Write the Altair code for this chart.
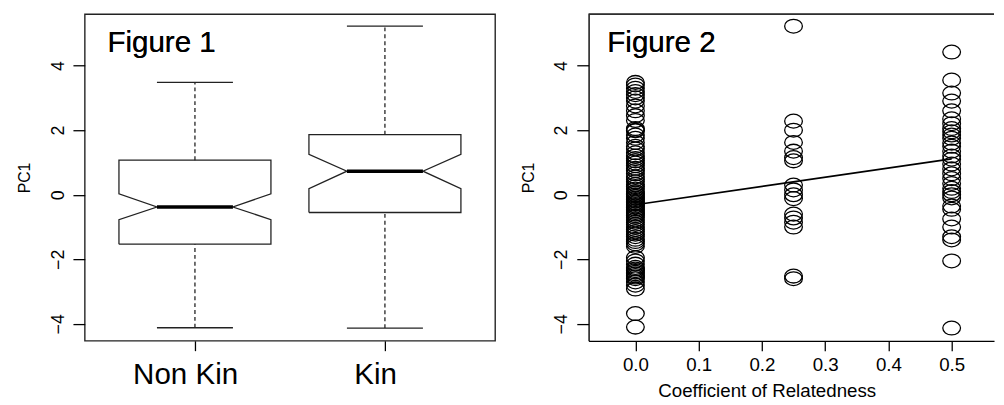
import altair as alt
import pandas as pd

# ---------------- data ----------------
groups = ["Non Kin", "Kin"]
group_pos = [1, 2]
whisker_lo = [-4.12, -4.13]
q1 = [-1.53, -0.55]
notch_lo = [-0.77, 0.19]
median = [-0.38, 0.73]
notch_hi = [0.03, 1.25]
q3 = [1.07, 1.86]
whisker_hi = [3.48, 5.22]

relatedness_levels = [0.0, 0.25, 0.5]
pc1_r000 = [3.48, 3.4, 3.3, 3.2, 3.1, 3.0, 2.9, 2.75, 2.6, 2.45, 2.3,
            2.05, 2.0, 1.98,
            1.85, 1.75, 1.62, 1.5, 1.42, 1.3, 1.2, 1.12, 1.05, 0.98, 0.9, 0.82,
            0.75, 0.65, 0.55, 0.48, 0.4, 0.32, 0.25, 0.18, 0.1, 0.05, 0.0,
            -0.05, -0.1, -0.15, -0.2, -0.25, -0.3, -0.35, -0.4, -0.45, -0.5,
            -0.55, -0.6, -0.65, -0.7, -0.78, -0.85, -0.92, -1.0, -1.08, -1.15,
            -1.22, -1.3, -1.38, -1.45, -1.52, -1.6,
            -1.95, -2.05, -2.15, -2.25, -2.3, -2.35, -2.4, -2.45, -2.5, -2.55,
            -2.6, -2.7, -2.8, -2.92,
            -3.68, -4.1]
pc1_r025 = [5.22, 2.28, 2.0, 1.62, 1.35, 1.15, 1.05, 0.3, 0.15, 0.0, -0.12,
            -0.6, -0.72, -0.85, -1.0, -2.52, -2.6]
pc1_r050 = [4.42, 3.55, 3.15, 2.9, 2.6, 2.35, 2.2, 2.05, 1.95, 1.85, 1.75, 1.6,
            1.5, 1.35, 1.2, 1.1, 0.95, 0.8, 0.65, 0.5, 0.35, 0.2, 0.1, 0.0,
            -0.1, -0.35, -0.45, -0.75, -1.0, -1.3, -1.4, -2.05, -4.13]
fit_x = [0.0, 0.5]
fit_y = [-0.31, 1.11]

y_ticks = [-4, -2, 0, 2, 4]
x_ticks_right = [0.0, 0.1, 0.2, 0.3, 0.4, 0.5]

# ---------------- styling ----------------
Y_DOMAIN = [-4.525, 5.595]
X_DOMAIN_LEFT = [0.42, 2.58]
X_DOMAIN_RIGHT = [-0.074, 0.567]
PANEL_H = 332
LEFT_W = 417
RIGHT_W = 412
BOX_HALF = 0.4
NOTCH_HALF = 0.2
CAP_HALF = 0.2
FONT = "Liberation Sans"
ELLIPSE = "M -1 0 A 1 0.78 0 1 1 1 0 A 1 0.78 0 1 1 -1 0 Z"

# ---------------- tables ----------------
outline_rows = []
for g, p, a, b, c, d, e in zip(groups, group_pos, q1, notch_lo, median, notch_hi, q3):
    seq = [(p - BOX_HALF, a), (p + BOX_HALF, a), (p + BOX_HALF, b), (p + NOTCH_HALF, c),
           (p + BOX_HALF, d), (p + BOX_HALF, e), (p - BOX_HALF, e), (p - BOX_HALF, d),
           (p - NOTCH_HALF, c), (p - BOX_HALF, b), (p - BOX_HALF, a)]
    for i, (xx, yy) in enumerate(seq):
        outline_rows.append({"group": g, "order": i, "x": xx, "y": yy})
outline = pd.DataFrame(outline_rows)

stats = pd.DataFrame({
    "group": groups, "pos": group_pos, "wlo": whisker_lo, "q1": q1,
    "med": median, "q3": q3, "whi": whisker_hi,
})
stats["cap_l"] = stats["pos"] - CAP_HALF
stats["cap_r"] = stats["pos"] + CAP_HALF
stats["med_l"] = stats["pos"] - NOTCH_HALF
stats["med_r"] = stats["pos"] + NOTCH_HALF

points = pd.DataFrame({
    "r": [relatedness_levels[0]] * len(pc1_r000)
         + [relatedness_levels[1]] * len(pc1_r025)
         + [relatedness_levels[2]] * len(pc1_r050),
    "pc1": pc1_r000 + pc1_r025 + pc1_r050,
})
fit = pd.DataFrame({"r": fit_x, "pc1": fit_y})

# ---------------- axes ----------------
yscale = alt.Scale(domain=Y_DOMAIN, nice=False, zero=False)


def y_axis(domain):
    return alt.Axis(values=y_ticks, title="PC1", grid=False, domain=domain,
                    domainColor="black", domainWidth=1.4,
                    tickColor="black", tickSize=12, tickWidth=1.3,
                    labelAngle=270, labelAlign="center", labelBaseline="bottom",
                    labelFontSize=18, labelPadding=6, labelColor="black",
                    titleFontSize=16, titleFontWeight="normal", titleColor="black",
                    titleAngle=270, titleAlign="center", titleBaseline="bottom",
                    titleX=-53, titleY=PANEL_H / 2)


label_expr = " : ".join(
    f"datum.value == {p} ? '{g}'" for p, g in zip(group_pos[:-1], groups[:-1])
) + f" : '{groups[-1]}'"

x_axis_left = alt.Axis(values=group_pos, labelExpr=label_expr, title=None, grid=False,
                       domain=False, tickColor="black", tickSize=10, tickWidth=1.3,
                       labelFontSize=30, labelPadding=9, labelOffset=-10, labelColor="black")

x_axis_right = alt.Axis(values=x_ticks_right, format=".1f", title="Coefficient of Relatedness",
                        grid=False, domain=True, domainColor="black", domainWidth=1.4,
                        tickColor="black", tickSize=10, tickWidth=1.3,
                        labelFontSize=19, labelPadding=5, labelColor="black",
                        titleFontSize=19, titleFontWeight="normal", titleColor="black",
                        titleX=181, titleY=57, titleBaseline="alphabetic", titleAlign="center")

xl = alt.Scale(domain=X_DOMAIN_LEFT, nice=False, zero=False)
xr = alt.Scale(domain=X_DOMAIN_RIGHT, nice=False, zero=False)

# ---------------- left panel: notched boxplot ----------------
box_line = alt.Chart(outline).mark_line(color="#222", strokeWidth=1.3).encode(
    x=alt.X("x:Q", scale=xl, axis=x_axis_left),
    y=alt.Y("y:Q", scale=yscale, axis=y_axis(False)),
    detail="group:N",
    order="order:Q",
)
base = alt.Chart(stats)
whisk_up = base.mark_rule(color="#222", strokeWidth=1.3, strokeDash=[4, 3]).encode(
    x=alt.X("pos:Q", scale=xl), y=alt.Y("q3:Q", scale=yscale), y2="whi:Q")
whisk_dn = base.mark_rule(color="#222", strokeWidth=1.3, strokeDash=[4, 3]).encode(
    x=alt.X("pos:Q", scale=xl), y=alt.Y("wlo:Q", scale=yscale), y2="q1:Q")
cap_hi = base.mark_rule(color="#222", strokeWidth=1.3).encode(
    x=alt.X("cap_l:Q", scale=xl), x2="cap_r:Q", y=alt.Y("whi:Q", scale=yscale))
cap_lo = base.mark_rule(color="#222", strokeWidth=1.3).encode(
    x=alt.X("cap_l:Q", scale=xl), x2="cap_r:Q", y=alt.Y("wlo:Q", scale=yscale))
med = base.mark_rule(color="black", strokeWidth=3.5).encode(
    x=alt.X("med_l:Q", scale=xl), x2="med_r:Q", y=alt.Y("med:Q", scale=yscale))
fig1 = alt.Chart(stats).mark_text(text="Figure 1", align="left", baseline="alphabetic",
                                  fontSize=30, color="black").encode(
    x=alt.value(23), y=alt.value(39))

left = alt.layer(box_line, whisk_up, whisk_dn, cap_hi, cap_lo, med, fig1).properties(
    width=LEFT_W, height=PANEL_H,
    view=alt.ViewBackground(stroke="#222", strokeWidth=1.4),
)

# ---------------- right panel: scatter ----------------
pts = alt.Chart(points).mark_point(shape=ELLIPSE, size=324, filled=False, color="black",
                                   strokeWidth=1.3, opacity=1).encode(
    x=alt.X("r:Q", scale=xr, axis=x_axis_right),
    y=alt.Y("pc1:Q", scale=yscale, axis=y_axis(True)),
)
fit_line = alt.Chart(fit).mark_line(color="black", strokeWidth=1.7).encode(
    x=alt.X("r:Q", scale=xr), y=alt.Y("pc1:Q", scale=yscale))
top_rule = alt.Chart(fit).mark_rule(color="#222", strokeWidth=1.4).encode(
    x=alt.value(0), x2=alt.value(RIGHT_W), y=alt.value(0))
fig2 = alt.Chart(fit).mark_text(text="Figure 2", align="left", baseline="alphabetic",
                                fontSize=30, color="black").encode(
    x=alt.value(19), y=alt.value(39))

right = alt.layer(pts, fit_line, top_rule, fig2).properties(
    width=RIGHT_W, height=PANEL_H,
    view=alt.ViewBackground(stroke="transparent"),
)

chart = alt.hconcat(left, right, spacing=24).properties(
    padding={"left": 8, "top": 1, "right": 0, "bottom": 0},
).configure(font=FONT).configure_view(stroke="transparent")

chart.save("out.html", embed_options={"renderer": "svg", "actions": False})
